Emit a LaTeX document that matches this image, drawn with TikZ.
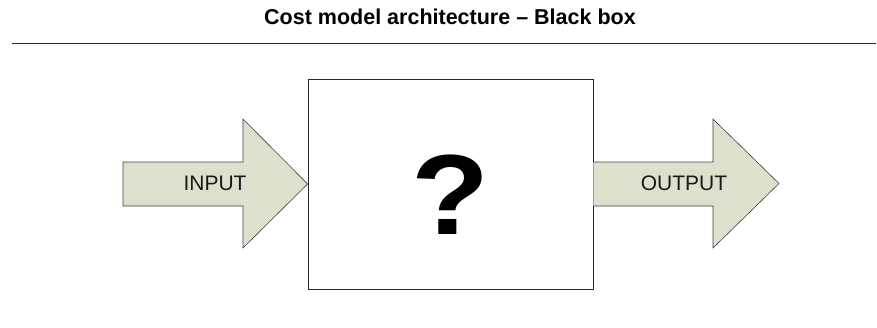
\documentclass[tikz,border=0pt]{standalone}
\usepackage{fontspec}
\setmainfont{Liberation Sans}
\begin{document}
\begin{tikzpicture}[x=1pt,y=-1pt,
  flow/.style={draw=black!75, fill=arrowfill, line width=0.6pt, line join=miter},
  lbl/.style={font=\fontsize{21}{21}\selectfont, text=black!90},
  blackbox/.style={draw=black!85, fill=white, line width=0.8pt}]
\definecolor{arrowfill}{HTML}{DDE0CC}
\useasboundingbox (0,0) rectangle (877,327);
% heading and rule
\node (title) at (450,17) {\fontsize{21.5}{21.5}\selectfont\bfseries Cost model architecture -- Black box};
\coordinate (ruleL) at (12,43.7);
\coordinate (ruleR) at (876,43.7);
\draw[line width=1.4pt, black!85] (ruleL) -- (ruleR);
% the box
\node[blackbox, minimum width=285pt, minimum height=210pt, inner sep=0pt] (box) at (450.5,184) {};
\node[xscale=1.12, inner sep=0pt] (q) at (450.5,195) {\fontsize{114}{114}\selectfont\bfseries ?};
% input arrow
\draw[flow] (123,162) -- (243,162) -- (243,119) -- (box.west) -- (243,248) -- (243,206) -- (123,206) -- cycle;
\node[lbl] (inlbl) at (215,183) {INPUT};
% output arrow
\draw[flow] (box.east |- 0,162) -- (713,162) -- (713,119) -- (779,183.5) -- (713,248) -- (713,206) -- (box.east |- 0,206);
\node[lbl] (outlbl) at (684,183) {OUTPUT};
\end{tikzpicture}
\end{document}
